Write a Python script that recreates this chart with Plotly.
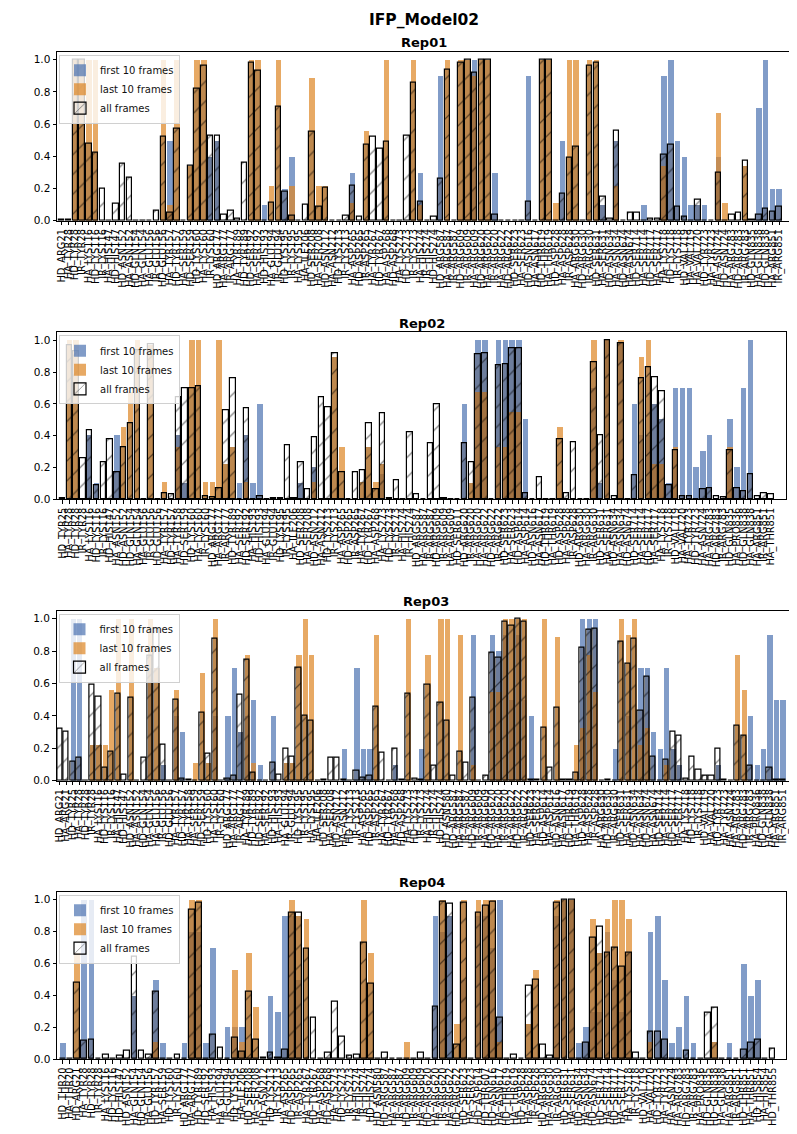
import numpy as np
import plotly.graph_objects as go

FIG_TITLE = "IFP_Model02"
SERIES = ["first 10 frames", "last 10 frames", "all frames"]
Y_TICKS = [0.0, 0.2, 0.4, 0.6, 0.8, 1.0]

# ---------------- Rep01 ----------------
rep01_title = "Rep01"
rep01_labels = """HD_ARG21 HA_TYR28 HD_TYR28 IR_TYR28 HA_LYS116 HD_LYS116 IR_LYS116 HA_HIS147 HD_HIS147 HD_ASN152
HA_ASN152 HD_GLN154 HA_GLN154 HA_GLU156 IR_GLU156 HD_GLU156 HA_TYR157 HD_TYR157 HA_SER159 HD_SER159
HD_LYS160 HA_LYS160 IR_LYS160 HD_ARG177 HA_ARG177 IR_ARG177 HA_TYR189 HD_TYR189 HD_SER192 HA_SER192
HD_HIS193 HA_GLU194 IR_GLU194 HD_LYS195 IR_LYS195 HA_LYS195 HA_ILE206 HD_SER208 HA_SER208 HD_ASN212
HA_ASN212 HD_LYS213 IR_LYS213 HA_ASP265 HD_ASP265 IR_ASP265 HA_TYR267 HD_TYR267 HA_ASP268 HD_ASP268
HA_LYS273 HD_LYS273 IR_LYS273 HA_HIS274 IR_HIS274 HD_HIS274 HD_ARG587 HA_ARG587 IR_ARG587 HD_ARG609
IR_ARG609 HA_ARG609 HD_ARG620 HA_ARG620 IR_ARG620 HA_ARG622 HD_ARG622 HD_SER623 HA_SER623 HD_ASN616
HA_ASN617 HD_THR619 HA_THR619 HD_ASP628 HA_ASP628 IR_ASP628 HA_ARG630 HD_ARG630 IR_ARG630 HD_SER631
HA_SER631 HD_ASN634 HA_ASN634 HD_ASN674 HA_ASN674 HD_SER714 HA_SER714 HD_SER717 HA_SER717 HA_LYS718
HD_LYS718 IR_LYS718 HD_VAL719 HA_VAL719 HA_VAL720 HD_TYR723 HA_TYR723 HA_ASN724 HD_ASN724 HA_ARG783
HD_ARG783 IR_ARG783 HD_GLN835 HA_GLN838 HD_GLN838 HA_ARG851 IR_ARG851""".split()
rep01_first = [
    0, 0, 0, 0, 0, 0, 0, 0, 0, 0,
    0, 0, 0, 0, 0, 0, 0.5, 0, 0, 0,
    0, 0, 0.4, 0.5, 0, 0, 0, 0, 0, 0,
    0.1, 0, 0, 0.2, 0.4, 0, 0, 0, 0, 0,
    0, 0, 0, 0.3, 0, 0, 0, 0, 0, 0,
    0, 0, 0, 0.3, 0, 0, 0.9, 0, 0, 0,
    0, 1.0, 0, 0, 0.3, 0, 0, 0, 0, 0.9,
    0, 0, 0, 0, 0.5, 0, 0, 0, 0, 0,
    0.1, 0, 0.5, 0, 0, 0, 0.1, 0, 0, 0.9,
    1.0, 0.5, 0.4, 0.1, 0.1, 0.1, 0, 0.4, 0, 0,
    0, 0, 0, 0.7, 1.0, 0.2, 0.2]
rep01_last = [
    0, 0, 1.0, 1.0, 1.0, 1.0, 0, 0, 0, 0,
    0, 0, 0, 0, 0, 1.0, 0.1, 1.0, 0, 0.34,
    1.0, 1.0, 0, 0, 0, 0, 0, 0, 1.0, 1.0,
    0, 0.22, 1.0, 0, 0.22, 0, 0, 0.89, 0.22, 0.22,
    0, 0, 0, 0.11, 0, 0.56, 0, 0, 1.0, 0,
    0, 0, 1.0, 0.1, 0, 0, 0, 1.0, 0, 1.0,
    1.0, 0.9, 1.0, 1.0, 0, 0, 0, 0, 0, 0,
    0, 1.0, 1.0, 0.11, 0, 1.0, 1.0, 0, 1.0, 1.0,
    0, 0, 0.22, 0, 0, 0, 0, 0, 0, 0.34,
    0, 0, 0, 0, 0, 0, 0, 0.67, 0.11, 0,
    0, 0.34, 0, 0, 0, 0, 0]
rep01_all = [
    0.005, 0.005, 1.0, 1.0, 0.48, 0.42, 0.2, 0, 0.105, 0.355,
    0.265, 0, 0, 0, 0.06, 0.52, 0.05, 0.57, 0, 0.34,
    0.82, 0.96, 0.53, 0.53, 0.035, 0.06, 0.01, 0.36, 0.98, 0.93,
    0, 0.11, 0.71, 0.18, 0.03, 0, 0.1, 0.55, 0.09, 0.205,
    0, 0, 0.03, 0.22, 0.025, 0.47, 0.52, 0.45, 0.49, 0,
    0, 0.53, 0.86, 0.12, 0, 0.025, 0.26, 0.94, 0, 0.98,
    1.0, 0.92, 1.0, 1.0, 0.04, 0, 0, 0, 0, 0.12,
    0, 1.0, 1.0, 0, 0.17, 0.39, 0.46, 0, 0.965, 0.98,
    0.15, 0.01, 0.56, 0, 0.05, 0.05, 0, 0.015, 0.015, 0.41,
    0.47, 0.09, 0.025, 0, 0.13, 0, 0, 0.3, 0, 0.04,
    0.05, 0.37, 0.005, 0.04, 0.075, 0.055, 0.085]

# ---------------- Rep02 ----------------
rep02_title = "Rep02"
rep02_labels = """HD_TYR25 HA_TYR28 HD_TYR28 IR_TYR28 HA_LYS116 HD_LYS116 IR_LYS116 HD_HIS147 HA_ASN152 HD_ASN152
HD_GLN154 HA_GLN154 HA_GLU156 IR_GLU156 HD_GLU156 HA_TYR157 HD_TYR157 HA_TYR158 HD_SER159 HD_LYS160
HA_LYS160 IR_LYS160 HD_ARG177 HA_ARG177 IR_ARG177 HD_TYR189 HA_SER192 HD_SER192 HA_HIS193 HD_HIS193
HA_GLU194 IR_GLU194 HD_LYS195 IR_LYS195 HA_ILE206 HD_SER208 HA_SER208 HD_ASN212 HA_ASN212 HD_LYS213
IR_LYS213 HA_ASP265 HD_ASP265 IR_ASP265 HA_TYR267 HD_TYR267 HA_ASP268 HA_LYS273 HD_LYS273 IR_LYS273
HA_HIS274 IR_HIS274 HD_ARG587 HA_ARG587 IR_ARG587 HD_ARG609 IR_ARG609 HA_ARG609 HD_SER611 HD_ARG620
IR_ARG620 HA_ARG620 HA_ARG622 HD_ARG622 IR_ARG622 HD_SER623 HA_SER623 HD_ASP614 HA_ASP614 HD_ASN616
HA_ASN617 HD_THR619 HA_THR619 HD_ASP628 HA_ASP628 IR_ASP628 HD_ARG630 HA_ARG630 IR_ARG630 HD_SER631
HA_SER631 HD_ASN634 HA_ASN634 HD_ASN674 HD_SER714 HA_SER714 HD_SER717 HA_SER717 HA_LYS718 IR_LYS718
HD_VAL719 HA_VAL720 HA_TYR723 HD_TYR723 HA_ASN724 HA_ARG783 HD_ARG783 IR_ARG783 HD_GLN835 HA_PRO836
HD_GLN838 HA_GLN838 HA_ARG851 IR_ARG851 HA_THR851""".split()
rep02_first = [
    0, 0, 0, 0, 0.4, 0.1, 0, 0, 0.4, 0,
    0, 0, 0, 0, 0, 0, 0, 0.4, 0.1, 0,
    0, 0, 0, 0, 0, 0, 0.1, 0.4, 0.1, 0.6,
    0, 0, 0, 0, 0, 0.1, 0, 0.2, 0, 0,
    0, 0, 0, 0, 0, 0, 0, 0.16, 0, 0,
    0, 0, 0, 0, 0, 0, 0, 0, 0, 0.6,
    0, 1.0, 1.0, 0, 1.0, 1.0, 1.0, 1.0, 0.5, 0,
    0, 0, 0, 0, 0, 0, 0, 0, 0.7, 0.1,
    1.0, 0, 0.98, 0, 0.6, 0.4, 0.4, 0.6, 0.5, 0.1,
    0.7, 0.7, 0.7, 0.2, 0.3, 0.4, 0, 0, 0.5, 0.2,
    0.7, 1.0, 0, 0, 0]
rep02_last = [
    0, 1.0, 1.0, 0, 0, 0, 0, 0, 0, 0.45,
    0.67, 1.0, 0, 0.97, 0, 0.11, 0, 0.33, 0, 1.0,
    1.0, 0.11, 0.11, 1.0, 0.22, 0.33, 0, 0.11, 0, 0,
    0, 0, 0, 0, 0, 0, 0, 0.11, 0, 0,
    0.89, 0.33, 0, 0, 0.11, 0.33, 0.11, 0.22, 0, 0,
    0, 0, 0, 0, 0, 0, 0, 0, 0, 0,
    0.1, 0.67, 0.67, 0, 0.33, 0.33, 0.55, 0.55, 0, 0,
    0, 0, 0, 0.45, 0, 0, 0, 0, 1.0, 0,
    1.0, 0, 1.0, 0, 0, 0.89, 1.0, 0.22, 0.22, 0,
    0.33, 0, 0, 0, 0, 0, 0, 0, 0.33, 0,
    0, 0, 0, 0, 0]
rep02_all = [
    0.005, 0.97, 0.93, 0.26, 0.435, 0.09, 0.23, 0.38, 0.17, 0.33,
    0.48, 0.94, 0, 0.975, 0, 0.04, 0.03, 0.64, 0.7, 0.7,
    0.71, 0.02, 0.01, 0.07, 0.56, 0.76, 0, 0.575, 0, 0.02,
    0, 0.005, 0.005, 0.34, 0.005, 0.23, 0.06, 0.39, 0.64, 0.58,
    0.92, 0.17, 0, 0.17, 0.18, 0.48, 0.06, 0.54, 0.005, 0.12,
    0, 0.42, 0.03, 0, 0.35, 0.6, 0.005, 0, 0, 0.35,
    0.23, 0.91, 0.92, 0, 0.84, 0.85, 0.95, 0.95, 0.04, 0,
    0.14, 0, 0, 0.38, 0.04, 0.36, 0, 0, 0.86, 0.4,
    1.0, 0.02, 0.98, 0, 0.15, 0.76, 0.83, 0.77, 0.68, 0.09,
    0.31, 0.02, 0.02, 0, 0.06, 0.07, 0.02, 0.01, 0.31, 0.07,
    0.05, 0.16, 0.02, 0.04, 0.03]

# ---------------- Rep03 ----------------
rep03_title = "Rep03"
rep03_labels = """HD_ARG21 HA_ARG21 HD_TYR25 HA_TYR28 HD_TYR28 IR_TYR28 HA_LYS116 HD_LYS116 IR_LYS116 HA_HIS147
HD_HIS147 HD_ASN152 HA_ASN152 HD_GLN154 HA_GLN154 HA_GLU156 IR_GLU156 HD_GLU156 HA_TYR157 HD_TYR157
HA_TYR158 HA_SER159 HD_SER159 HD_LYS160 HA_LYS160 IR_LYS160 HD_ARG177 HA_ARG177 IR_ARG177 HA_TYR189
HD_TYR189 HD_SER192 HA_SER192 HD_HIS193 HA_HIS193 HA_GLU194 IR_GLU194 HD_LYS195 IR_LYS195 HA_LYS195
HA_ILE206 HD_SER208 HA_SER208 HD_ASN212 HA_ASN212 HD_LYS213 IR_LYS213 HA_ASP265 HD_ASP265 IR_ASP265
HA_TYR267 HD_TYR267 HA_ASP268 HD_ASP268 HA_LYS273 HD_LYS273 IR_LYS273 HA_HIS274 IR_HIS274 HD_HIS274
HD_ASN580 HD_ARG587 HA_ARG587 IR_ARG587 HD_ARG609 IR_ARG609 HA_ARG609 HD_ARG620 HA_ARG620 IR_ARG620
HA_ARG622 HD_ARG622 IR_ARG622 HD_SER623 HA_SER623 HD_ASP614 HA_ASP614 HD_ASN616 HA_ASN617 HD_THR619
HA_THR619 HD_ASP628 HA_ASP628 IR_ASP628 HA_ARG630 HD_ARG630 IR_ARG630 HD_SER631 HA_SER631 HD_ASN634
HA_ASN634 HD_ASN674 HA_ASN674 HD_SER714 HA_SER714 HD_SER717 HA_SER717 HA_LYS718 HD_LYS718 IR_LYS718
HD_VAL719 HA_VAL720 HD_TYR723 HA_TYR723 HA_ASN724 HA_ARG783 HD_ARG783 IR_ARG783 HA_PRO836 HD_GLN838
HA_GLN838 HA_ARG851 IR_ARG851""".split()
rep03_first = [
    0, 0, 1.0, 1.0, 0, 0, 0, 0, 0, 0,
    0, 0, 0, 0, 0.7, 0, 0.1, 0, 0.4, 0.3,
    0, 0, 0, 0, 0.4, 0, 0.4, 0.7, 0.3, 0.4,
    0.5, 0.1, 0, 0.4, 0, 0, 0, 0, 0, 0,
    0, 0, 0, 0, 0.2, 0, 0.7, 0.2, 0.2, 0,
    0, 0, 0.1, 0, 0, 0, 0.2, 0, 0, 0,
    0, 0, 0, 0, 0.9, 0, 0, 0.9, 0.8, 0.9,
    0.5, 0.9, 0.5, 0.4, 0, 0, 0, 0, 0, 0,
    0, 1.0, 1.0, 1.0, 0, 0, 0.2, 0, 0.4, 0,
    0.7, 0.7, 0.3, 0.2, 0.7, 0.2, 0.1, 0, 0, 0,
    0, 0, 0.1, 0, 0, 0, 0, 0.4, 0.1, 0.2,
    0.9, 0.5, 0.5]
rep03_last = [
    0, 0, 0, 0, 0, 0.22, 0.22, 0.22, 0.56, 1.0,
    0, 1.0, 0, 0, 1.0, 0.7, 0, 0, 0.56, 0,
    0, 0.11, 0.67, 0.11, 1.0, 0, 0, 0, 0, 0.78,
    0.11, 0, 0, 0, 0, 0.11, 0.11, 0.78, 1.0, 0.78,
    0, 0, 0, 0, 0, 0, 0, 0, 0, 0.9,
    0, 0, 0, 0, 1.0, 0, 0, 0.78, 0, 1.0,
    1.0, 0, 0.9, 0, 0.1, 0, 0, 0.55, 0.55, 1.0,
    1.0, 1.0, 1.0, 0, 0, 1.0, 0, 0.89, 0, 0,
    0.22, 0.33, 0.78, 0.55, 0, 0, 0, 1.0, 0.9, 1.0,
    0.22, 0.33, 0, 0, 0.1, 0, 0, 0, 0, 0,
    0, 0, 0, 0, 0, 0.78, 0.56, 0, 0, 0,
    0, 0, 0]
rep03_all = [
    0.32, 0.3, 0.12, 0.14, 0, 0.59, 0.52, 0.08, 0.18, 0.54,
    0.04, 0.51, 0, 0.14, 0.77, 0.94, 0.22, 0, 0.5, 0.01,
    0.005, 0, 0.42, 0.165, 0.88, 0, 0.01, 0.03, 0.53, 0.75,
    0.05, 0, 0, 0.11, 0.04, 0.2, 0.15, 0.7, 0.4, 0.37,
    0, 0.005, 0.145, 0.14, 0.005, 0, 0.06, 0.02, 0.03, 0.46,
    0.17, 0, 0.2, 0.005, 0.54, 0.01, 0.005, 0.59, 0.09, 0.48,
    0.37, 0.03, 0.18, 0.11, 0.51, 0, 0.03, 0.79, 0.76, 0.98,
    0.96, 1.0, 0.98, 0.005, 0.005, 0.33, 0.08, 0.45, 0.005, 0.005,
    0.05, 0.82, 0.93, 0.94, 0, 0.005, 0, 0.86, 0.72, 0.88,
    0.43, 0.64, 0.15, 0, 0.13, 0.3, 0.28, 0.01, 0.15, 0.065,
    0.03, 0.03, 0.2, 0.005, 0, 0.34, 0.28, 0.09, 0, 0,
    0.08, 0.005, 0.005]

# ---------------- Rep04 ----------------
rep04_title = "Rep04"
rep04_labels = """HD_THR20 HA_THR20 HD_ARG21 HA_TYR28 HD_TYR28 IR_TYR28 HA_LYS116 HD_LYS116 HD_HIS147 HD_ASN152
HA_GLN154 HD_GLN154 HA_GLU156 HD_TYR157 HA_SER159 HD_LYS160 IR_LYS160 HD_ARG177 HA_ARG177 HD_TYR189
HD_SER192 HA_HIS193 HA_GLU194 IR_GLU194 HD_LYS195 HA_ILE206 HD_SER208 HA_SER208 HD_ASN212 HD_LYS213
IR_LYS213 HA_ASP265 HD_ASP265 IR_ASP265 HA_TYR267 HD_TYR267 HA_ASP268 HD_ASP268 HA_LYS273 HD_LYS273
IR_LYS273 HA_HIS274 IR_HIS274 HD_HIS274 HD_ASN580 HD_ARG587 HA_ARG587 IR_ARG587 HD_ARG609 IR_ARG609
HA_ARG609 HD_ARG620 HA_ARG620 IR_ARG620 HA_ARG622 HD_ARG622 HD_SER623 HA_SER623 HD_ASP614 HD_THR607
HD_ASN616 HA_ASN617 HD_THR619 HA_THR619 HD_ASP628 HA_ASP628 IR_ASP628 HD_ARG630 HA_ARG630 IR_ARG630
HD_SER631 HA_SER631 HD_ASN634 HA_ASN634 HD_ASN674 HD_SER714 HA_SER714 HD_SER717 HA_SER717 HA_LYS718
IR_LYS718 HD_VAL719 HA_VAL720 HD_TYR723 HA_TYR723 HA_ASN724 HA_ARG783 HD_ARG783 IR_ARG783 HA_PRO836
HD_GLN835 HD_GLN838 HA_GLN838 HA_ARG851 IR_ARG851 HD_THR851 HA_THR851 HD_HIS854 HA_HIS854 HD_THR855""".split()
rep04_first = [
    0.1, 0, 0, 1.0, 1.0, 0, 0, 0, 0, 0,
    0.4, 0, 0, 0.5, 0.1, 0, 0, 0.1, 0.8, 0.8,
    0.1, 0.7, 0, 0.2, 0.2, 0.2, 0, 0, 0, 0.4,
    0.3, 0.9, 0.9, 0.5, 0, 0, 0, 0, 0, 0,
    0, 0, 0, 0, 0, 0, 0, 0, 0, 0,
    0, 0, 0.9, 0.8, 0.9, 0, 0.5, 0, 0.9, 0.9,
    0.7, 1.0, 0, 0, 0, 0, 0, 0, 0, 0.9,
    1.0, 1.0, 0.1, 0.2, 0.3, 0.3, 0.8, 0.5, 0.3, 0.67,
    0, 0, 0.8, 0.9, 0.5, 0.1, 0.2, 0.4, 0.1, 0,
    0, 0, 0, 0.1, 0, 0.6, 0.4, 0.5, 0, 0]
rep04_last = [
    0, 0, 0.67, 0, 0, 0, 0, 0, 0, 0,
    0, 0, 0, 0.11, 0, 0, 0, 0, 1.0, 1.0,
    0, 0, 0, 0, 0.56, 0.11, 0.67, 0.33, 0, 0,
    0, 0, 1.0, 0.9, 0.88, 0, 0, 0, 0, 0,
    0, 0, 1.0, 0.67, 0, 0, 0, 0, 0.11, 0,
    0, 0, 0, 1.0, 0, 0.22, 1.0, 0, 1.0, 1.0,
    1.0, 0.11, 0, 0, 0, 0.22, 0.56, 0, 0, 1.0,
    1.0, 1.0, 0, 0, 0.88, 0.67, 0.88, 1.0, 1.0, 0.88,
    0, 0, 0.11, 0, 0, 0, 0, 0, 0, 0,
    0, 0.11, 0, 0, 0, 0, 0, 0, 0, 0]
rep04_all = [
    0, 0.005, 0.48, 0.115, 0.12, 0, 0.03, 0, 0.02, 0.05,
    0.64, 0.05, 0.03, 0.42, 0, 0, 0.03, 0, 0.94, 0.98,
    0, 0.155, 0.07, 0, 0.135, 0.045, 0.42, 0.12, 0.01, 0.04,
    0.01, 0.06, 0.92, 0.92, 0.69, 0.26, 0.005, 0.04, 0.36, 0.14,
    0.02, 0.03, 0.73, 0.47, 0.005, 0.04, 0, 0.005, 0.005, 0.005,
    0.04, 0, 0.33, 0.985, 0.975, 0.09, 0.98, 0, 0.92, 0.96,
    0.99, 0.26, 0.005, 0.03, 0, 0.46, 0.5, 0.09, 0.02, 0.98,
    1.0, 1.0, 0, 0.1, 0.76, 0.83, 0.67, 0.7, 0.58, 0.67,
    0.04, 0, 0.17, 0.17, 0.12, 0.005, 0, 0.05, 0, 0,
    0.29, 0.32, 0.005, 0.005, 0, 0.06, 0.1, 0.12, 0, 0.065]

# ---------------- styling / layout ----------------
W, H = 797, 1134
OFF = 8  # the page body margin shifts the figure by 8 px
FONT = "DejaVu Sans"
BLUE = "rgba(76,114,176,0.7)"
ORANGE = "rgba(222,136,40,0.72)"
SHADE = "rgba(40,20,0,0.22)"

# target pixel positions on the page (left, right), (top, bottom)
panels = [
    dict(title=rep01_title, labels=rep01_labels, first=rep01_first, last=rep01_last, all=rep01_all,
         px=(57, 790), py=(51.7, 220.7), xr=(-0.7, 107.6)),
    dict(title=rep02_title, labels=rep02_labels, first=rep02_first, last=rep02_last, all=rep02_all,
         px=(57, 786), py=(332.3, 499.3), xr=(-0.8, 106.2)),
    dict(title=rep03_title, labels=rep03_labels, first=rep03_first, last=rep03_last, all=rep03_all,
         px=(56.5, 796), py=(610.7, 780.7), xr=(-0.5, 114.1)),
    dict(title=rep04_title, labels=rep04_labels, first=rep04_first, last=rep04_last, all=rep04_all,
         px=(57, 786), py=(891.7, 1059.0), xr=(-0.8, 100.9)),
]


def fx(px):
    return (px - OFF) / W


def fy(py):
    return 1 - (py - OFF) / H


fig = go.Figure()
annotations = []
layout_upd = {}
for k, p in enumerate(panels, start=1):
    n = len(p["labels"])
    assert len(p["first"]) == n and len(p["last"]) == n and len(p["all"]) == n
    sfx = "" if k == 1 else str(k)
    xa, ya, leg = "x" + sfx, "y" + sfx, "legend" + sfx
    x = np.arange(n)
    first = np.array(p["first"], dtype=float)
    last = np.array(p["last"], dtype=float)
    allf = np.array(p["all"], dtype=float)
    shade = np.minimum(allf, np.maximum(first, last))

    fig.add_trace(go.Bar(x=x, y=first, width=0.8, name=SERIES[0], marker=dict(color=BLUE, line=dict(width=0)),
                         xaxis=xa, yaxis=ya, legend=leg, hoverinfo="skip"))
    fig.add_trace(go.Bar(x=x, y=last, width=0.8, name=SERIES[1], marker=dict(color=ORANGE, line=dict(width=0)),
                         xaxis=xa, yaxis=ya, legend=leg, hoverinfo="skip"))
    fig.add_trace(go.Bar(x=x, y=shade, width=0.8, name="shade", showlegend=False,
                         marker=dict(color=SHADE, line=dict(width=0)),
                         xaxis=xa, yaxis=ya, legend=leg, hoverinfo="skip"))
    fig.add_trace(go.Bar(x=x, y=allf, width=0.8, name=SERIES[2],
                         marker=dict(color="rgba(0,0,0,0)", line=dict(color="black", width=1.2),
                                     pattern=dict(shape="/", fgcolor="black", bgcolor="rgba(0,0,0,0)",
                                                  size=14, solidity=0.09, fillmode="overlay")),
                         xaxis=xa, yaxis=ya, legend=leg, hoverinfo="skip"))

    x0, x1 = p["px"]
    yt, yb = p["py"]
    layout_upd["xaxis" + sfx] = dict(
        domain=[fx(x0), fx(x1)], range=list(p["xr"]), anchor=ya,
        tickmode="array", tickvals=list(x), ticktext=p["labels"], tickangle=-90,
        ticks="outside", ticklen=3.5, tickwidth=0.8, tickcolor="black",
        showline=True, linecolor="black", linewidth=1, mirror=True,
        showgrid=False, zeroline=False, automargin=False,
        tickfont=dict(family=FONT, size=9.8, color="black"))
    layout_upd["yaxis" + sfx] = dict(
        domain=[fy(yb), fy(yt)], range=[0, 1.05], anchor=xa,
        tickmode="array", tickvals=Y_TICKS, ticktext=["%.1f" % v for v in Y_TICKS],
        ticks="outside", ticklen=3.5, tickwidth=0.8, tickcolor="black",
        showline=True, linecolor="black", linewidth=1, mirror=True,
        showgrid=False, zeroline=False, automargin=False,
        tickfont=dict(family=FONT, size=10.5, color="black"))
    layout_upd[leg] = dict(
        x=fx(x0 + 2), y=fy(yt + 3), xanchor="left", yanchor="top",
        bgcolor="rgba(255,255,255,0.8)", bordercolor="#d0d0d0", borderwidth=1,
        font=dict(family=FONT, size=10, color="#111"), tracegroupgap=0, itemwidth=30,
        traceorder="normal")
    annotations.append(dict(
        text="<b>%s</b>" % p["title"], x=fx((x0 + x1) / 2), y=fy(yt - 9),
        xref="paper", yref="paper", xanchor="center", yanchor="middle", showarrow=False,
        font=dict(family=FONT, size=13, color="black")))

annotations.append(dict(
    text="<b>%s</b>" % FIG_TITLE, x=fx(424), y=fy(9), xref="paper", yref="paper",
    xanchor="center", yanchor="top", showarrow=False,
    font=dict(family=FONT, size=15.5, color="black")))

fig.update_layout(
    width=W, height=H, margin=dict(l=0, r=0, t=0, b=0),
    paper_bgcolor="white", plot_bgcolor="white",
    barmode="overlay", bargap=0, showlegend=True,
    annotations=annotations, font=dict(family=FONT, color="black"),
    **layout_upd)

fig.write_html("out.html")
